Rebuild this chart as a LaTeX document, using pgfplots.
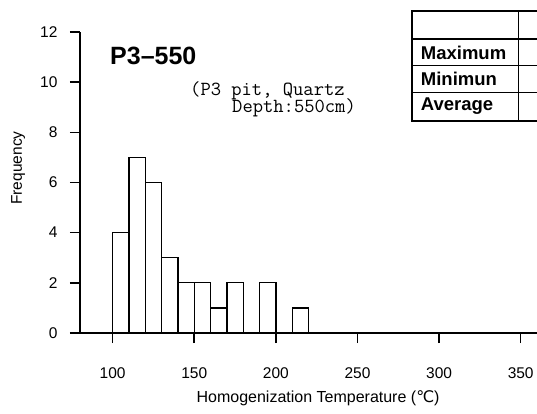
\documentclass[border=0pt]{standalone}
\usepackage{fontspec}
\setmainfont{Liberation Sans}
\newfontfamily\symfont{DejaVu Sans}
\usepackage{pgfplots}
\pgfplotsset{compat=1.18}

\begin{document}
\begin{tikzpicture}
\useasboundingbox (-80bp,-81bp) rectangle (457bp,333bp);
\clip (-80bp,-81bp) rectangle (457bp,333bp);
\begin{axis}[
    width=457bp, height=301bp, scale only axis,
    xmin=80, xmax=360, ymin=0, ymax=12,
    axis lines=left,
    axis line style={-, line width=1.6bp},
    xtick={100,150,...,350}, ytick={0,2,...,12},
    tick align=outside, major tick length=10bp,
    tick style={black, line width=1.6bp},
    /pgf/number format/assume math mode=true,
    tick label style={font=\fontsize{15.5bp}{17bp}\selectfont},
    xticklabel style={yshift=-21bp},
    yticklabel style={xshift=-9bp},
    xlabel={Homogenization Temperature ({\symfont ℃})},
    xlabel style={font=\fontsize{16bp}{18bp}\selectfont, at={(axis description cs:0.521,0)}, anchor=base, yshift=-69.5bp},
    ylabel={Frequency},
    ylabel style={font=\fontsize{15.5bp}{18bp}\selectfont, at={(axis description cs:-0.127,0.548)}, anchor=base},
    clip=false,
]
% histogram, bin width 10
\addplot[ybar interval, fill=white, draw=black, line width=1.3bp] coordinates {
(100,4) (110,7) (120,6) (130,3) (140,2) (150,2) (160,1) (170,2) (180,0) (190,2) (200,0) (210,1) (220,0)
};
\end{axis}
% sample name and note
\node[anchor=base west, inner sep=0pt, font=\bfseries\fontsize{25bp}{28bp}\selectfont] at (30bp,268bp) {P3–550};
\node[anchor=base west, inner sep=0pt, font=\ttfamily\fontsize{20bp}{22bp}\selectfont] at (110bp,237bp) {(P3 pit, Quartz};
\node[anchor=base west, inner sep=0pt, font=\ttfamily\fontsize{20bp}{22bp}\selectfont] at (152bp,220bp) {Depth:550cm)};
% statistics table (right column cut off)
\draw[line width=1.8bp] (332bp,212.3bp) rectangle (480bp,322.3bp);
\draw[line width=1.4bp] (332bp,294bp) -- (480bp,294bp)
    (332bp,267.3bp) -- (480bp,267.3bp)
    (332bp,240.7bp) -- (480bp,240.7bp)
    (438.3bp,212.3bp) -- (438.3bp,322.3bp);
\begin{scope}[every node/.style={anchor=base west, inner sep=0pt, font=\bfseries\fontsize{18.5bp}{20bp}\selectfont}]
\node at (340.7bp,273bp) {Maximum};
\node at (340.7bp,247bp) {Minimun};
\node at (340.7bp,222.3bp) {Average};
\end{scope}
\end{tikzpicture}
\end{document}
